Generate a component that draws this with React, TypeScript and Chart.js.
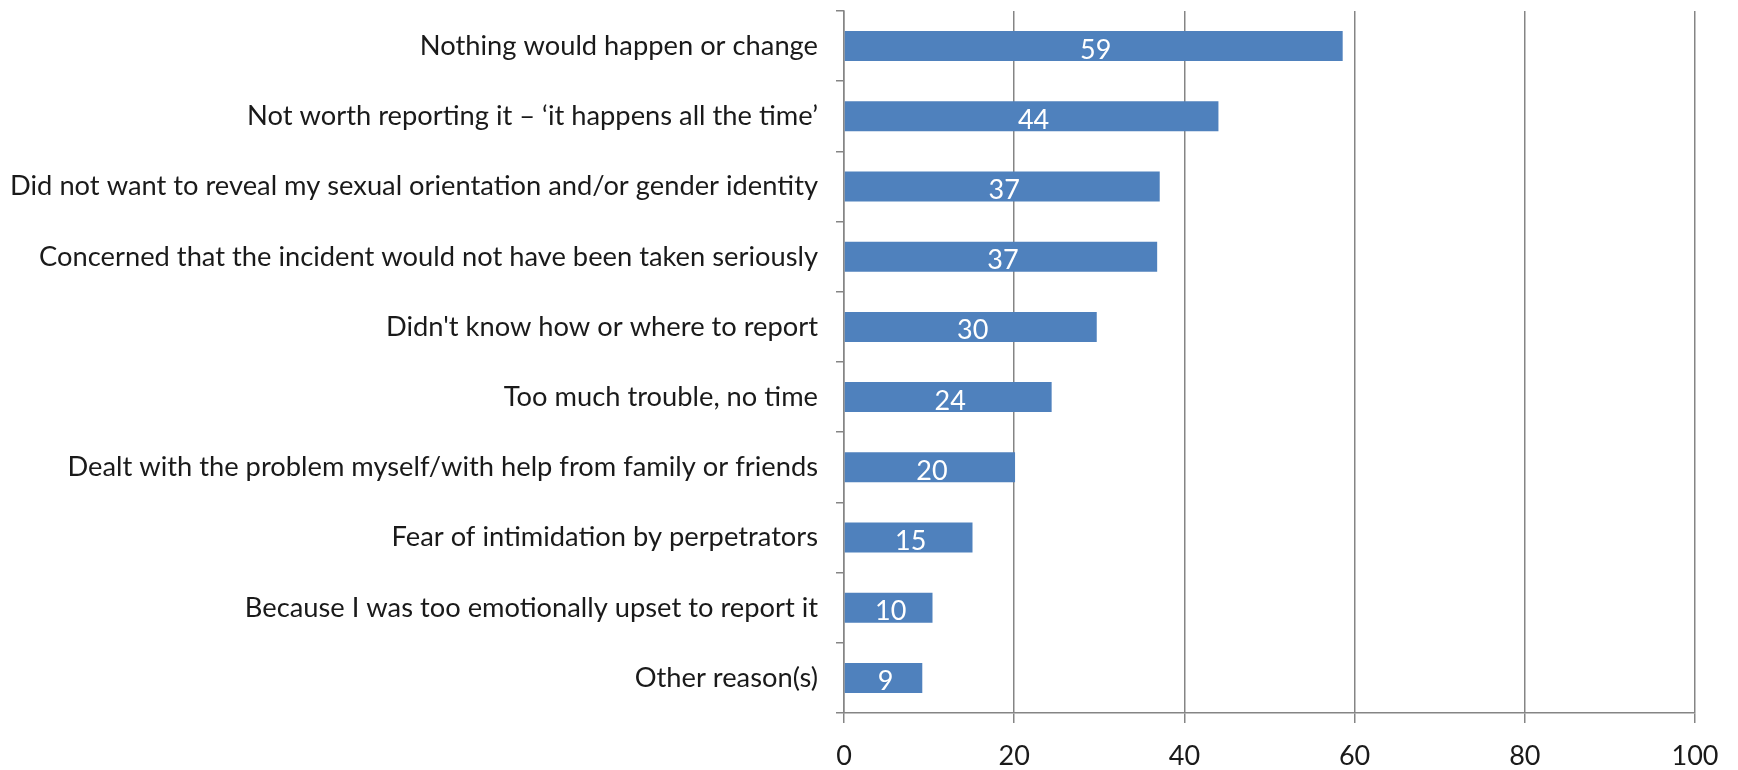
import React, { useEffect, useRef } from "react";
import { Chart, registerables } from "chart.js";

Chart.register(...registerables);

const categories = [
  "Nothing would happen or change",
  "Not worth reporting it – ‘it happens all the time’",
  "Did not want to reveal my sexual orientation and/or gender identity",
  "Concerned that the incident would not have been taken seriously",
  "Didn't know how or where to report",
  "Too much trouble, no time",
  "Dealt with the problem myself/with help from family or friends",
  "Fear of intimidation by perpetrators",
  "Because I was too emotionally upset to report it",
  "Other reason(s)",
];

const values = [58.6, 44.0, 37.1, 36.8, 29.7, 24.4, 20.1, 15.1, 10.4, 9.2];
const valueLabels = ["59", "44", "37", "37", "30", "24", "20", "15", "10", "9"];

const xMin = 0;
const xMax = 100;
const xStep = 20;

const FONT = "Lato, 'Open Sans', sans-serif";

const barLabelPlugin = {
  id: "barLabels",
  afterDatasetsDraw(chart: any) {
    const ctx = chart.ctx;
    const meta = chart.getDatasetMeta(0);
    ctx.save();
    ctx.fillStyle = "#ffffff";
    ctx.font = `27px ${FONT}`;
    ctx.textAlign = "center";
    ctx.textBaseline = "alphabetic";
    meta.data.forEach((el: any, i: number) => {
      const cx = (el.x + el.base) / 2;
      ctx.fillText(valueLabels[i], cx + 2, el.y + 12.5);
    });
    ctx.restore();
  },
};

export default function App() {
  const ref = useRef<HTMLCanvasElement | null>(null);

  useEffect(() => {
    if (!ref.current) return;
    const chart = new Chart(ref.current, {
      type: "bar",
      data: {
        labels: categories,
        datasets: [
          {
            data: values,
            backgroundColor: "#4F81BD",
            borderWidth: 0,
            categoryPercentage: 1,
            barPercentage: 0.427,
          },
        ],
      },
      options: {
        indexAxis: "y",
        animation: false,
        responsive: false,
        maintainAspectRatio: false,
        layout: { padding: { top: 11, right: 43, left: 0, bottom: 0 } },
        plugins: {
          legend: { display: false },
          tooltip: { enabled: false },
        },
        scales: {
          x: {
            min: xMin,
            max: xMax,
            afterFit: (s: any) => {
              s.height = 57;
              s.paddingLeft = 0;
              s.paddingRight = 0;
            },
            ticks: {
              stepSize: xStep,
              color: "#1a1a1a",
              font: { family: FONT, size: 27 },
              padding: 17,
            },
            grid: {
              color: "#858585",
              lineWidth: 1.5,
              tickLength: 10,
            },
            border: { color: "#858585", width: 1.5 },
          },
          y: {
            afterFit: (s: any) => {
              s.width = 844;
              s.paddingTop = 0;
              s.paddingBottom = 0;
            },
            ticks: {
              color: "#1a1a1a",
              font: { family: FONT, size: 27.3 },
              padding: 18,
              autoSkip: false,
            },
            grid: {
              drawOnChartArea: false,
              drawTicks: true,
              tickLength: 8,
              color: "#858585",
              lineWidth: 1.5,
              offset: true,
            },
            border: { color: "#858585", width: 1.5 },
          },
        },
      },
      plugins: [barLabelPlugin],
    });
    return () => chart.destroy();
  }, []);

  return (
    <div style={{ position: "fixed", left: 0, top: 0, width: 1738, height: 770, background: "#fff" }}>
      <canvas ref={ref} width={1738} height={770} style={{ width: 1738, height: 770 }} />
    </div>
  );
}
